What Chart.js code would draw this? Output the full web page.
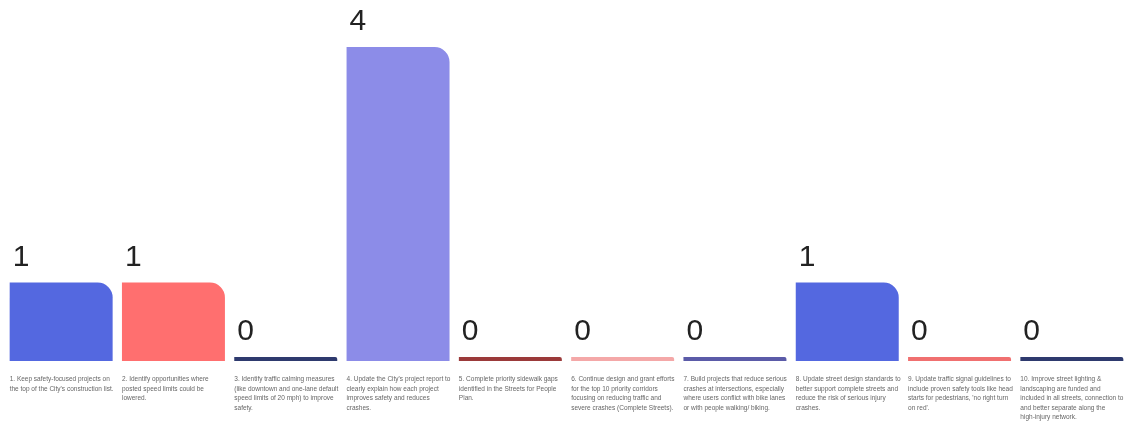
<!DOCTYPE html>
<html lang="en">

<head>
    <meta charset="UTF-8">
    <title>Safety Actions</title>
    <script src="https://cdn.jsdelivr.net/npm/chart.js"></script>
    <style>
        body { margin: 0; overflow: hidden; background: #fff; }
    </style>
</head>

<body>
    <canvas id="actionsChart" width="1128" height="421"></canvas>

    <script>
        var categories = [
            "1. Keep safety-focused projects on the top of the City's construction list.",
            "2. Identify opportunities where posted speed limits could be lowered.",
            "3. Identify traffic calming measures (like downtown and one-lane default speed limits of 20 mph) to improve safety.",
            "4. Update the City's project report to clearly explain how each project improves safety and reduces crashes.",
            "5. Complete priority sidewalk gaps identified in the Streets for People Plan.",
            "6. Continue design and grant efforts for the top 10 priority corridors focusing on reducing traffic and severe crashes (Complete Streets).",
            "7. Build projects that reduce serious crashes at intersections, especially where users conflict with bike lanes or with people walking/ biking.",
            "8. Update street design standards to better support complete streets and reduce the risk of serious injury crashes.",
            "9. Update traffic signal guidelines to include proven safety tools like head starts for pedestrians, 'no right turn on red'.",
            "10. Improve street lighting & landscaping are funded and included in all streets, connection to and better separate along the high-injury network."
        ];
        var votes = [1, 1, 0, 4, 0, 0, 0, 1, 0, 0];
        var barColors = ['#5468e0', '#ff6f6f', '#2e3a6e', '#8c8ce8', '#9b3a3a',
            '#f4a8a8', '#5b5ba8', '#5468e0', '#f07070', '#2e3a6e'];

        var labelPlugin = {
            id: 'barLabels',
            afterDatasetsDraw: function (chart) {
                var ctx = chart.ctx;
                var bars = chart.getDatasetMeta(0).data;
                ctx.save();
                bars.forEach(function (bar, i) {
                    var left = bar.x - bar.width / 2;
                    // value above bar
                    ctx.fillStyle = '#222';
                    ctx.font = '30px "Liberation Sans", Arial, sans-serif';
                    ctx.textAlign = 'left';
                    ctx.textBaseline = 'alphabetic';
                    ctx.fillText(String(votes[i]), left + 3, bar.y - 17);

                    // wrapped category text below
                    ctx.fillStyle = '#666';
                    ctx.font = '6.5px "Liberation Sans", Arial, sans-serif';
                    ctx.textBaseline = 'top';
                    var words = categories[i].split(' ');
                    var line = '';
                    var y = chart.chartArea.bottom + 15;
                    var maxW = bar.width + 3;
                    words.forEach(function (w) {
                        var test = line ? line + ' ' + w : w;
                        if (ctx.measureText(test).width > maxW && line) {
                            ctx.fillText(line, left, y);
                            line = w;
                            y += 9.5;
                        } else {
                            line = test;
                        }
                    });
                    if (line) ctx.fillText(line, left, y);
                });
                ctx.restore();
            }
        };

        var actionsChart = new Chart(document.getElementById('actionsChart').getContext('2d'), {
            type: 'bar',
            data: {
                labels: categories,
                datasets: [{
                    data: votes,
                    backgroundColor: barColors,
                    borderRadius: { topRight: 15 },
                    borderSkipped: false,
                    minBarLength: 4,
                    barPercentage: 0.917,
                    categoryPercentage: 1.0
                }]
            },
            options: {
                responsive: false,
                animation: false,
                layout: {
                    padding: { left: 5, right: 0, top: 0, bottom: 60 }
                },
                plugins: {
                    legend: { display: false },
                    tooltip: { enabled: false }
                },
                scales: {
                    x: { display: false },
                    y: { display: false, min: 0, max: 4.6 }
                }
            },
            plugins: [labelPlugin]
        });
    </script>
</body>

</html>
